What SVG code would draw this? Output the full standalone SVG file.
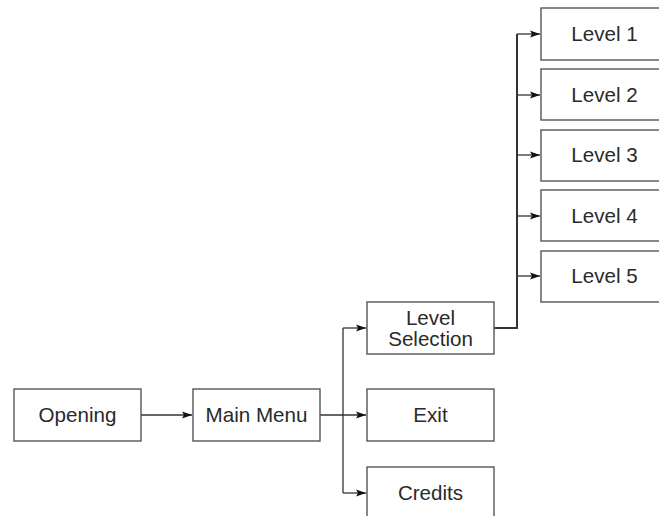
<svg xmlns="http://www.w3.org/2000/svg" width="659" height="516" viewBox="0 0 659 516">
<style>
.box{fill:#fff;stroke:#555;stroke-width:1.4}
.t{font-family:"Liberation Sans",Arial,sans-serif;font-size:20.6px;fill:#2a2a2a;text-anchor:middle}
.c{fill:none;stroke:#333;stroke-width:1.3}
</style>
<defs>
<marker id="ah" markerWidth="11" markerHeight="9" refX="10" refY="4.5" orient="auto" markerUnits="userSpaceOnUse">
<path d="M0,1 L10,4.5 L0,8 L2,4.5 Z" fill="#111"/>
</marker>
</defs>
<rect width="659" height="516" fill="#fff"/>
<g id="connectors">
<path class="c" d="M141,415 H192" marker-end="url(#ah)"/>
<path class="c" d="M320,415 H366" marker-end="url(#ah)"/>
<path class="c" d="M343,328 V493"/>
<path class="c" d="M343,328 H366" marker-end="url(#ah)"/>
<path class="c" d="M343,493 H366" marker-end="url(#ah)"/>
<path class="c" style="stroke-width:2" d="M494,328 H517 V34"/>
<path class="c" d="M517,34 H540" marker-end="url(#ah)"/>
<path class="c" d="M517,95 H540" marker-end="url(#ah)"/>
<path class="c" d="M517,155 H540" marker-end="url(#ah)"/>
<path class="c" d="M517,216 H540" marker-end="url(#ah)"/>
<path class="c" d="M517,276 H540" marker-end="url(#ah)"/>
</g>
<g id="opening"><rect class="box" x="14" y="389" width="127" height="52"/><text class="t" x="77.5" y="422">Opening</text></g>
<g id="main-menu"><rect class="box" x="193" y="389" width="127" height="52"/><text class="t" x="256.5" y="422">Main Menu</text></g>
<g id="level-selection"><rect class="box" x="367" y="302" width="127" height="52"/><text class="t" x="430.5" y="325">Level</text><text class="t" x="430.5" y="346">Selection</text></g>
<g id="exit"><rect class="box" x="367" y="389" width="127" height="52"/><text class="t" x="430.5" y="422">Exit</text></g>
<g id="credits"><rect class="box" x="367" y="467" width="127" height="52"/><text class="t" x="430.5" y="500">Credits</text></g>
<g id="level-1"><rect class="box" x="541" y="8" width="127" height="52"/><text class="t" x="604.5" y="41">Level 1</text></g>
<g id="level-2"><rect class="box" x="541" y="69" width="127" height="51"/><text class="t" x="604.5" y="102">Level 2</text></g>
<g id="level-3"><rect class="box" x="541" y="130" width="127" height="51"/><text class="t" x="604.5" y="162">Level 3</text></g>
<g id="level-4"><rect class="box" x="541" y="190" width="127" height="51"/><text class="t" x="604.5" y="223">Level 4</text></g>
<g id="level-5"><rect class="box" x="541" y="251" width="127" height="51"/><text class="t" x="604.5" y="283">Level 5</text></g>
</svg>
